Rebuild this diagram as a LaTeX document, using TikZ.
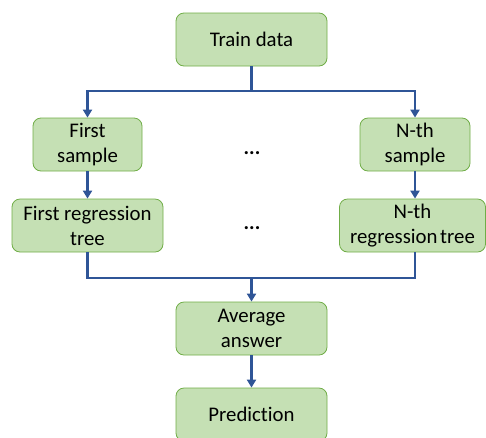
\documentclass[tikz,border=0pt]{standalone}
\usepackage{fontspec}
\setmainfont[Ligatures=NoCommon]{Carlito}
\usetikzlibrary{arrows.meta}

\definecolor{boxfill}{HTML}{C5E0B4}
\definecolor{boxline}{HTML}{70AD47}
\definecolor{linkblue}{HTML}{2F5597}

\tikzset{
  box/.style={draw=boxline, fill=boxfill, line width=0.8pt, rounded corners=8pt,
    minimum height=53pt, align=center, font=\fontsize{20.8}{25}\selectfont, inner sep=2pt},
  link/.style={draw=linkblue, line width=2.4pt},
  linkarrow/.style={link, -{Triangle[length=8pt,width=9pt]}},
  dots/.style={font=\fontsize{20.8}{25}\selectfont\bfseries}
}

\begin{document}
\begin{tikzpicture}[x=1pt,y=-1pt]
    \useasboundingbox (0,0) rectangle (486,437);

    \node[box, minimum width=151pt] (train) at (251.5,39.5) {Train data};

    \node[box, minimum width=109pt] (s1) at (87.5,144.5) {First\\sample};
    \node[box, minimum width=110pt] (sn) at (415,144.5) {N-th\\sample};
    \node[dots] (d1) at (252,153) {...};

    \node[box, minimum width=151pt] (t1) at (87.5,225.5) {First regression\\tree};
    \node[box, minimum width=146pt] (tn) at (412.5,225.5) {N-th\\regression\hspace{-2pt} tree};
    \node[dots] (d2) at (252,228) {...};

    \node[box, minimum width=151pt] (avg) at (251.5,328.5) {Average\\answer};
    \node[box, minimum width=151pt] (pred) at (251.5,414.5) {Prediction};

    \coordinate (split) at (251.5,91);
    \coordinate (join) at (251.5,278);

    \draw[link] (train.south) -- (split);
    \draw[linkarrow] (split) -| (s1.north);
    \draw[linkarrow] (split) -| (sn.north);
    \draw[linkarrow] (s1) -- (t1);
    \draw[linkarrow] (sn.south) -- (sn.south |- tn.north);
    \draw[link] (t1.south) |- (join);
    \draw[link] (tn.south -| sn.south) |- (join);
    \draw[linkarrow] (join) -- (avg.north);
    \draw[linkarrow] (avg) -- (pred);

  \end{tikzpicture}
\end{document}
